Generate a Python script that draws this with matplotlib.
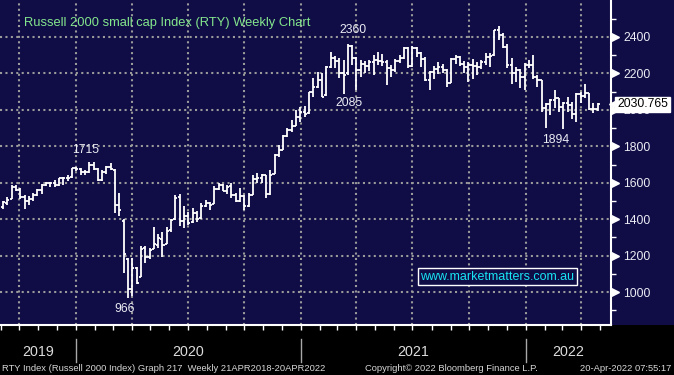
import numpy as np
import pandas as pd
import matplotlib
matplotlib.use('Agg')
import matplotlib.pyplot as plt
import matplotlib.transforms as mtransforms
from matplotlib.collections import LineCollection
from matplotlib import font_manager as fm

# ---------------- data (weekly OHLC, RTY) ----------------
first_week = '2019-08-30'
opens = [1468,1490,1510,1578,1560,1523,1500,1511,1535,1558,1590,1598,1597,1585,1624,1627,1630,1679,1678,1660,
         1657,1700,1675,1614,1657,1688,1670,1480,1390,1180,1014,1130,1085,1240,1190,1235,1260,1290,1265,1340,
         1400,1520,1390,1420,1385,1432,1405,1474,1487,1485,1568,1586,1554,1580,1535,1500,1526,1470,1535,1623,
         1627,1642,1540,1650,1754,1780,1855,1892,1914,1961,1990,1980,2096,2123,2166,2080,2233,2286,2266,2201,
         2200,2352,2287,2221,2253,2243,2264,2271,2266,2265,2230,2217,2269,2286,2338,2240,2342,2310,2280,2164,
         2209,2226,2236,2221,2150,2277,2292,2250,2236,2248,2241,2233,2265,2290,2300,2437,2411,2344,2245,2205,
         2221,2182,2244,2245,2179,2162,2009,2033,2054,2063,2015,2035,2026,1977,2086,2078,2090,2007,2004]
highs = [1500,1522,1590,1586,1570,1530,1528,1542,1563,1595,1606,1602,1615,1626,1630,1642,1681,1684,1680,1668,
         1715,1712,1680,1668,1690,1711,1676,1545,1400,1185,1185,1138,1250,1250,1240,1355,1320,1330,1355,1400,
         1535,1536,1470,1441,1460,1445,1490,1505,1495,1580,1600,1592,1590,1600,1545,1570,1532,1543,1642,1653,
         1650,1645,1672,1755,1808,1862,1900,1945,2000,2017,2020,2100,2175,2210,2200,2240,2315,2296,2285,2275,
         2360,2357,2290,2275,2270,2275,2300,2320,2305,2275,2245,2280,2300,2345,2347,2350,2345,2320,2290,2215,
         2240,2260,2250,2225,2285,2300,2297,2270,2260,2280,2265,2275,2310,2310,2440,2458,2420,2360,2283,2235,
         2225,2257,2273,2300,2190,2165,2035,2060,2110,2065,2045,2068,2045,2090,2100,2140,2095,2038,2040]
lows = [1455,1480,1508,1552,1512,1456,1475,1500,1528,1540,1580,1578,1574,1582,1588,1610,1624,1664,1644,1642,
        1655,1668,1608,1612,1650,1670,1435,1418,1105,966,980,1045,1080,1160,1180,1235,1240,1195,1262,1330,
        1395,1360,1350,1366,1380,1385,1400,1465,1450,1483,1560,1552,1540,1515,1495,1495,1450,1468,1532,1598,
        1600,1515,1535,1650,1742,1780,1850,1880,1910,1935,1960,1975,2072,2120,2072,2075,2230,2230,2175,2085,
        2190,2245,2110,2182,2200,2215,2190,2245,2240,2137,2180,2210,2255,2280,2230,2235,2290,2235,2160,2110,
        2170,2195,2205,2127,2148,2250,2240,2200,2155,2170,2190,2225,2245,2235,2298,2384,2338,2228,2140,2155,
        2118,2110,2228,2172,2127,1990,1898,1972,2010,1990,1894,1990,1952,1935,2040,2064,2000,1985,1993]
closes = [1494,1505,1578,1561,1523,1500,1511,1535,1558,1590,1598,1597,1585,1624,1627,1628,1679,1678,1660,1657,
          1700,1675,1614,1657,1687,1678,1476,1449,1210,1014,1131,1052,1235,1193,1230,1262,1295,1256,1336,1394,
          1518,1388,1418,1380,1432,1399,1474,1487,1480,1568,1586,1554,1579,1535,1497,1526,1470,1531,1623,1627,
          1642,1538,1644,1754,1780,1855,1892,1914,1961,1990,1975,2096,2123,2166,2073,2233,2286,2266,2201,2192,
          2352,2287,2221,2253,2243,2264,2271,2266,2265,2230,2217,2269,2286,2338,2238,2342,2310,2280,2164,2209,
          2226,2236,2221,2150,2277,2292,2250,2236,2248,2241,2233,2265,2290,2297,2437,2411,2344,2245,2205,2221,
          2182,2244,2245,2179,2162,2009,2033,2054,2063,2015,2035,2026,1977,2086,2078,2090,2007,2004,2030.765]
last_price = 2030.765
y_ticks = [1000, 1200, 1400, 1600, 1800, 2000, 2200, 2400]
y_minor = [900, 1100, 1300, 1500, 1700, 1900, 2100, 2300, 2500]
year_labels = ['2019', '2020', '2021', '2022']
ann_text = ['1715', '2360', '2085', '966', '1894']
ann_x = [19.1, 81.2, 80.3, 28.2, 128.3]
ann_y = [1780, 2438, 2038, 907, 1834]

title = 'Russell 2000 small cap Index (RTY) Weekly Chart'
footer_left = 'RTY Index (Russell 2000 Index) Graph 217  Weekly 21APR2018-20APR2022'
footer_mid = 'Copyright\u00a9 2022 Bloomberg Finance L.P.'
footer_right = '20-Apr-2022 07:55:17'
website = 'www.marketmatters.com.au'

# ---------------- fonts ----------------
avail = {f.name for f in fm.fontManager.ttflist}
if 'Liberation Sans Narrow' in avail:
    NARROW = ['Liberation Sans Narrow', 'DejaVu Sans']
    k = 1.0
else:
    NARROW = ['Liberation Sans', 'DejaVu Sans']
    k = 0.82
REG = ['Liberation Sans', 'DejaVu Sans']
plt.rcParams['font.family'] = NARROW

NAVY = '#0f0c46'
GRID = '#9a9a9a'
TXT = '#ececf4'

fig = plt.figure(figsize=(6.74, 3.75), dpi=100, facecolor='black')
W, H = 674.0, 375.0
ax_right = 611.0
ax_bottom = 325.0
# navy strip behind the right-hand price scale (drawn beneath everything)
fig.patches.append(plt.Rectangle((ax_right / W, (H - ax_bottom) / H), 1 - ax_right / W,
                                 ax_bottom / H, transform=fig.transFigure,
                                 facecolor=NAVY, edgecolor='none', zorder=-5))
ax = fig.add_axes([0, (H - ax_bottom) / H, ax_right / W, ax_bottom / H])
ax.set_facecolor(NAVY)
ax.set_zorder(2)

n = len(closes)
x = np.arange(n)
base = pd.Timestamp(first_week)


def pos(d):
    return (pd.Timestamp(d) - base).days / 7.0 - 0.86


# OHLC bars
w = 0.48
segs = []
for i in range(n):
    segs.append([(x[i], lows[i]), (x[i], highs[i])])
    segs.append([(x[i] - w, opens[i]), (x[i], opens[i])])
    segs.append([(x[i], closes[i]), (x[i] + w, closes[i])])
ax.add_collection(LineCollection(segs, colors='white', linewidths=1.3, zorder=3))

ax.set_xlim(-0.7, -0.7 + ax_right / 4.31)
ax.set_ylim(819, 2603)

# x ticks: quarters (grid) and months
q_dates = pd.date_range('2019-10-01', '2022-04-01', freq='QS')
m_dates = pd.date_range('2019-09-01', '2022-05-01', freq='MS')
q_pos = [pos(d) for d in q_dates]
m_pos = [pos(d) for d in m_dates]
ax.set_xticks(q_pos)
ax.set_xticks(m_pos, minor=True)
ax.tick_params(axis='x', which='both', length=3.5, width=1, color='white',
               direction='out', labelbottom=False)

# y ticks
ax.yaxis.tick_right()
ax.set_yticks(y_ticks)
ax.set_yticks(y_minor, minor=True)
ax.set_yticklabels([str(v) for v in y_ticks])
ax.tick_params(axis='y', which='major', length=0, pad=9, labelcolor=TXT, labelsize=10.8 * k)
ax.tick_params(axis='y', which='minor', length=3.5, width=1, color='white', direction='out')
ytr = mtransforms.blended_transform_factory(ax.transAxes, ax.transData)
ax.plot([1 + 3.5 / ax_right] * len(y_ticks), y_ticks, ls='none', marker='>', ms=5.5,
        color='white', transform=ytr, clip_on=False, zorder=5)

ax.grid(True, which='major', color=GRID, linestyle=(0, (1, 1.6)), linewidth=1.5)
ax.set_axisbelow(True)
for s in ['top', 'left']:
    ax.spines[s].set_visible(False)
for s in ['right', 'bottom']:
    ax.spines[s].set_color('white')
    ax.spines[s].set_linewidth(1.5)

# last price tag (covers the 2000 label, as in the original)
ax.plot([1 + 2.5 / ax_right], [last_price], ls='none', marker='<', ms=7, color='white',
        transform=ytr, clip_on=False, zorder=8)
ax.text(1 + 6 / ax_right, last_price, f'{last_price:.3f}', transform=ytr, ha='left', va='center',
        color='black', fontsize=10.8 * k, zorder=9, clip_on=False,
        bbox=dict(boxstyle='square,pad=0.14', facecolor='white', edgecolor='white'))

# title
ax.text(24 / ax_right, 1 - 23 / ax_bottom, title, transform=ax.transAxes, ha='left', va='center',
        color='#84e68c', fontsize=9.3, family=REG)

# annotations
for t, xx, yy in zip(ann_text, ann_x, ann_y):
    ax.text(xx, yy, t, ha='center', va='center', color=TXT, fontsize=10.8 * k, zorder=6)

# website box
ax.text(497.5 / ax_right, 1 - 276.5 / ax_bottom, website, transform=ax.transAxes, ha='center',
        va='center', color='#18e4f2', fontsize=9, family=REG, zorder=6,
        bbox=dict(boxstyle='square,pad=0.18', facecolor=NAVY, edgecolor='white', linewidth=1))

# year separators and labels below the axis
xtr = mtransforms.blended_transform_factory(ax.transData, ax.transAxes)
jan_pos = [pos(f'{y}-01-01') for y in (2020, 2021, 2022)]
for p in jan_pos:
    ax.plot([p, p], [-0.042, -0.115], color='#a8a8a8', lw=1, transform=xtr, clip_on=False)
lo, hi = ax.get_xlim()
bounds = [lo] + jan_pos + [hi]
for lab, a, b in zip(year_labels, bounds[:-1], bounds[1:]):
    ax.text((a + b) / 2, -0.083, lab, transform=xtr, ha='center', va='center',
            color='#dcdcdc', fontsize=12.5 * k, clip_on=False)

# footer
fy = 1 - 368.5 / H
fig.text(2 / W, fy, footer_left, ha='left', va='center', color='#d8d8d8', fontsize=8.2 * k)
fig.text(365 / W, fy, footer_mid, ha='left', va='center', color='#d8d8d8', fontsize=8.2 * k)
fig.text(671 / W, fy, footer_right, ha='right', va='center', color='#d8d8d8', fontsize=8.2 * k)

fig.savefig('out.png', dpi=100, facecolor='black')
